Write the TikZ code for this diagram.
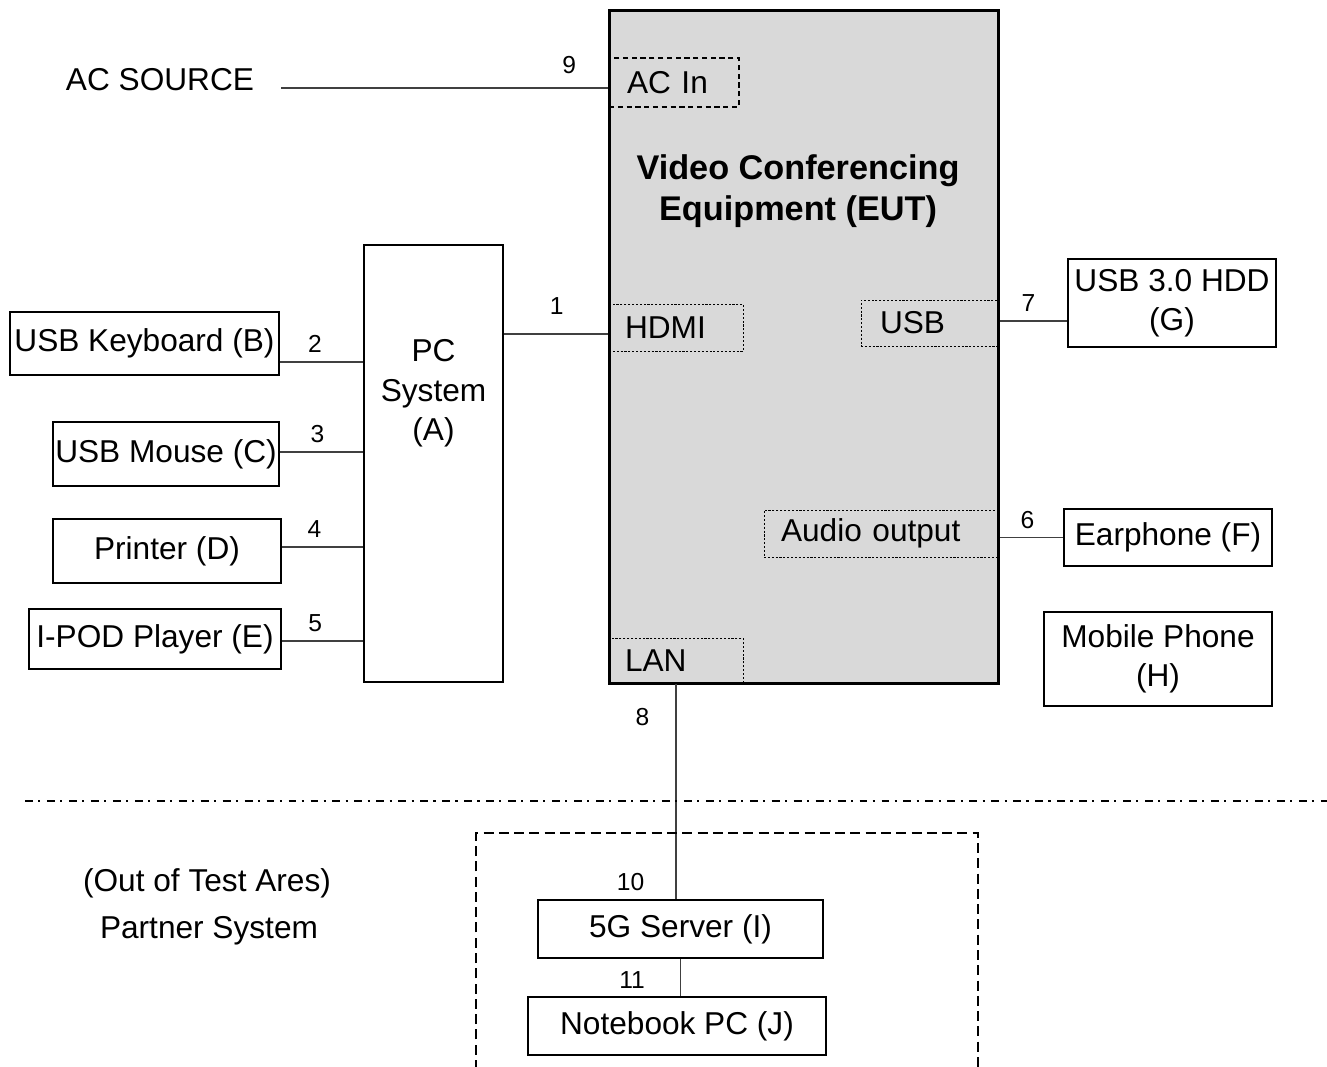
\documentclass[tikz,border=0pt]{standalone}
\usepackage{fontspec}
\setmainfont{Liberation Sans}
\usetikzlibrary{positioning}

\begin{document}
\begin{tikzpicture}[x=0.02cm,y=-0.02cm]
\tikzstyle{every node}+=[font=\fontsize{18}{22.5}\selectfont]
\tikzstyle{device}=[draw, line width=1.1pt, align=center, inner sep=0pt]
\tikzstyle{port}=[draw, dash pattern=on 1.2pt off 1pt, line width=0.5pt, align=left, inner ysep=0pt]
\tikzstyle{cable}=[draw=black!75, line width=0.8pt]
\tikzstyle{num}=[font=\fontsize{14}{16}\selectfont, inner sep=2pt]
\useasboundingbox (0,0) rectangle (1327,1066);
\node[device, fill=gray!30, line width=1.7pt, minimum width=7.8cm, minimum height=13.48cm] (eut) at (804,347) {};
\node[font=\fontsize{19.5}{23.3}\selectfont\bfseries, align=center] (eutname) at (798,191.5) {Video Conferencing\\ Equipment (EUT)};
\node[port, dash pattern=on 3pt off 2pt, line width=0.7pt, text width=1.88cm, inner xsep=0.36cm, minimum height=0.98cm] (acin) at (674,82.5) {AC In};
\node[port, text width=2.04cm, inner xsep=0.32cm, minimum height=0.94cm] (hdmi) at (676,327.5) {HDMI};
\node[port, text width=1.96cm, inner xsep=0.38cm, minimum height=0.92cm] (usb) at (929,323) {USB};
\node[port, text width=3.98cm, inner xsep=0.34cm, minimum height=0.94cm] (audio) at (880.5,533.5) {Audio output};
\node[port, text width=2.04cm, inner xsep=0.32cm, minimum height=0.92cm] (lan) at (676,661) {LAN};
\node[inner xsep=0.54cm] (acsrc) at (160,80) {AC SOURCE};
\node[device, minimum width=2.78cm, minimum height=8.74cm, label={[align=center, yshift=1.4cm]center:PC\\System\\(A)}] (pc) at (433.5,463.5) {};
\node[device, minimum width=5.38cm, minimum height=1.26cm] (kbd) at (144.5,343.5) {USB Keyboard (B)};
\node[device, minimum width=4.52cm, minimum height=1.28cm] (mouse) at (166,454) {USB Mouse (C)};
\node[device, minimum width=4.56cm, minimum height=1.28cm] (printer) at (167,551) {Printer (D)};
\node[device, minimum width=5.04cm, minimum height=1.2cm] (ipod) at (155,639) {I-POD Player (E)};
\node[device, minimum width=4.16cm, minimum height=1.76cm] (hdd) at (1172,303) {USB 3.0 HDD\\(G)};
\node[device, minimum width=4.16cm, minimum height=1.14cm] (ear) at (1168,537.5) {Earphone (F)};
\node[device, minimum width=4.56cm, minimum height=1.88cm] (phone) at (1158,659) {Mobile Phone\\(H)};
\node[device, minimum width=5.7cm, minimum height=1.16cm] (server) at (680.5,929) {5G Server (I)};
\node[device, minimum width=5.96cm, minimum height=1.16cm] (nb) at (677,1026) {Notebook PC (J)};
\node (outarea) at (207,883) {(Out of Test Ares)};
\node (partner) at (209,931) {Partner System};
\draw[cable] (acsrc.east |- 0,88) -- node[num, above=0.2cm, pos=0.88] {9} (acin.west |- 0,88);
\draw[cable] (pc.east |- 0,334) -- node[num, above=0.3cm, pos=0.51] {1} (eut.west |- 0,334);
\draw[cable] (kbd.east |- 0,362) -- node[num, above=0.1cm, pos=0.42] {2} (pc.west |- 0,362);
\draw[cable] (mouse.east |- 0,452) -- node[num, above=0.1cm, pos=0.45] {3} (pc.west |- 0,452);
\draw[cable] (printer.east |- 0,547) -- node[num, above=0.1cm, pos=0.4] {4} (pc.west |- 0,547);
\draw[cable] (ipod.east |- 0,641) -- node[num, above=0.1cm, pos=0.41] {5} (pc.west |- 0,641);
\draw[cable] (eut.east |- 0,321) -- node[num, above=0.1cm, pos=0.42] {7} (hdd.west |- 0,321);
\draw[cable] (eut.east |- ear.west) -- node[num, above=0.1cm, pos=0.43] {6} (ear.west);
\draw[cable] (lan.south) -- node[num, left=0.45cm, pos=0.15] {8} node[num, left=0.55cm, pos=0.92] {10} (lan.south |- server.north);
\draw[cable] (server.south) -- node[num, left=0.63cm, pos=0.58] {11} (server.south |- nb.north);
\draw[line width=1.4pt, dash pattern=on 4.5pt off 3pt on 1.2pt off 3.8pt] (25,801) -- (1327,801);
\draw[line width=1.3pt, dash pattern=on 5.7pt off 3pt] (476,1070) -- (476,833) -- (978,833) -- (978,1070);
\end{tikzpicture}
\end{document}
